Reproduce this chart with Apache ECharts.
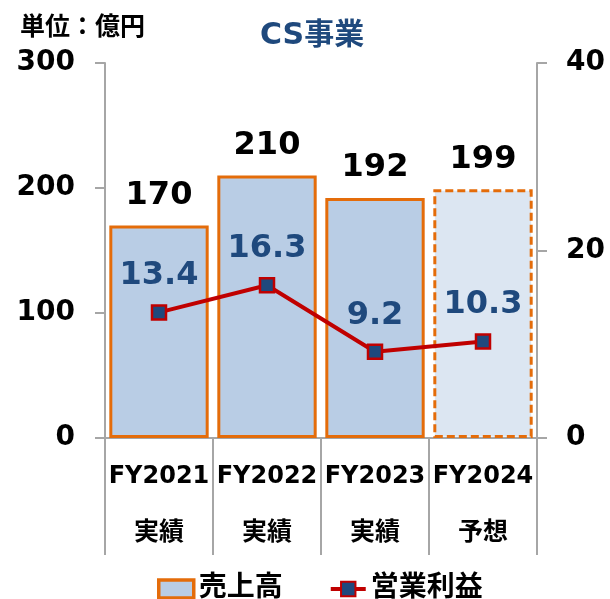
<!DOCTYPE html>
<html>
<head>
<meta charset="utf-8">
<script src="https://cdn.jsdelivr.net/npm/echarts@6/dist/echarts.min.js"></script>
<style>
  html, body { margin: 0; padding: 0; background: #fff; }
  #main { width: 610px; height: 599px; }
</style>
</head>
<body>
<div id="main"></div>
<script>
// データ
var categories = ['FY2021', 'FY2022', 'FY2023', 'FY2024'];
var subLabels = ['実績', '実績', '実績', '予想'];
var sales = [170, 210, 192, 199];        // 売上高 (億円)
var profit = [13.4, 16.3, 9.2, 10.3];    // 営業利益 (億円)
var leftTicks = [0, 100, 200, 300];
var rightTicks = [0, 20, 40];

var FONT = "'DejaVu Sans', 'Noto Sans CJK JP', sans-serif";
var ORANGE = '#e46c0a';
var BLUE = '#1f497d';
var RED = '#c00000';
var GRAY = '#a6a6a6';

var chart = echarts.init(document.getElementById('main'));

var barData = sales.map(function (v, i) {
  if (subLabels[i] === '予想') {
    return {
      value: v,
      itemStyle: { color: '#dce6f2', borderColor: ORANGE, borderWidth: 3, borderType: [8, 4] }
    };
  }
  return v;
});

chart.setOption({
  animation: false,
  textStyle: { fontFamily: FONT },
  title: [
    {
      text: 'CS事業', left: 255, top: 16,
      textStyle: { fontFamily: FONT, fontSize: 30, fontWeight: 'bold', color: BLUE }
    },
    {
      text: '単位：億円', left: 15, top: 11,
      textStyle: { fontFamily: FONT, fontSize: 25, fontWeight: 'bold', color: '#000' }
    }
  ],
  grid: { left: 105, right: 73, top: 63, bottom: 161 },
  legend: {
    top: 570, left: 152, itemGap: 46, itemWidth: 35, itemHeight: 18,
    textStyle: { fontFamily: FONT, fontSize: 28, fontWeight: 'bold', color: '#000' },
    data: [
      { name: '売上高', icon: 'rect', itemStyle: { color: '#b9cde5', borderColor: ORANGE, borderWidth: 3.5 } },
      { name: '営業利益', lineStyle: { width: 4, color: RED } }
    ]
  },
  xAxis: {
    type: 'category',
    data: categories,
    axisLine: { lineStyle: { color: GRAY, width: 2 } },
    axisTick: { show: true, length: 117, interval: 0, lineStyle: { color: GRAY, width: 2 } },
    axisLabel: {
      interval: 0, margin: 10,
      formatter: function (v, i) { return '{a|' + v + '}\n{b|' + subLabels[i] + '}'; },
      rich: {
        a: { fontFamily: FONT, fontSize: 24, fontWeight: 'bold', color: '#000', lineHeight: 57 },
        b: { fontFamily: FONT, fontSize: 25, fontWeight: 'bold', color: '#000', lineHeight: 57 }
      }
    }
  },
  yAxis: [
    {
      type: 'value', min: leftTicks[0], max: leftTicks[leftTicks.length - 1], interval: 100,
      axisLine: { show: true, lineStyle: { color: GRAY, width: 2 } },
      axisTick: { show: true, length: 10, lineStyle: { color: GRAY, width: 2 } },
      splitLine: { show: false },
      axisLabel: { margin: 30, fontFamily: FONT, fontSize: 28, fontWeight: 'bold', color: '#000' }
    },
    {
      type: 'value', min: rightTicks[0], max: rightTicks[rightTicks.length - 1], interval: 20,
      axisLine: { show: true, lineStyle: { color: GRAY, width: 2 } },
      axisTick: { show: true, length: 10, lineStyle: { color: GRAY, width: 2 } },
      splitLine: { show: false },
      axisLabel: { margin: 29, fontFamily: FONT, fontSize: 28, fontWeight: 'bold', color: '#000' }
    }
  ],
  series: [
    {
      name: '売上高',
      type: 'bar',
      barWidth: '92%',
      data: barData,
      itemStyle: { color: '#b9cde5', borderColor: ORANGE, borderWidth: 3 },
      label: {
        show: true, position: 'top', distance: 14,
        fontFamily: FONT, fontSize: 32, fontWeight: 'bold', color: '#000'
      },
      z: 1
    },
    {
      name: '営業利益',
      type: 'line',
      yAxisIndex: 1,
      data: profit,
      symbol: 'rect',
      symbolSize: 14,
      lineStyle: { color: RED, width: 4 },
      itemStyle: { color: BLUE, borderColor: RED, borderWidth: 2.5 },
      label: {
        show: true, position: 'top', distance: 12,
        formatter: function (p) { return p.value.toFixed(1); },
        fontFamily: FONT, fontSize: 32, fontWeight: 'bold', color: BLUE
      },
      z: 3
    }
  ]
});
</script>
</body>
</html>
